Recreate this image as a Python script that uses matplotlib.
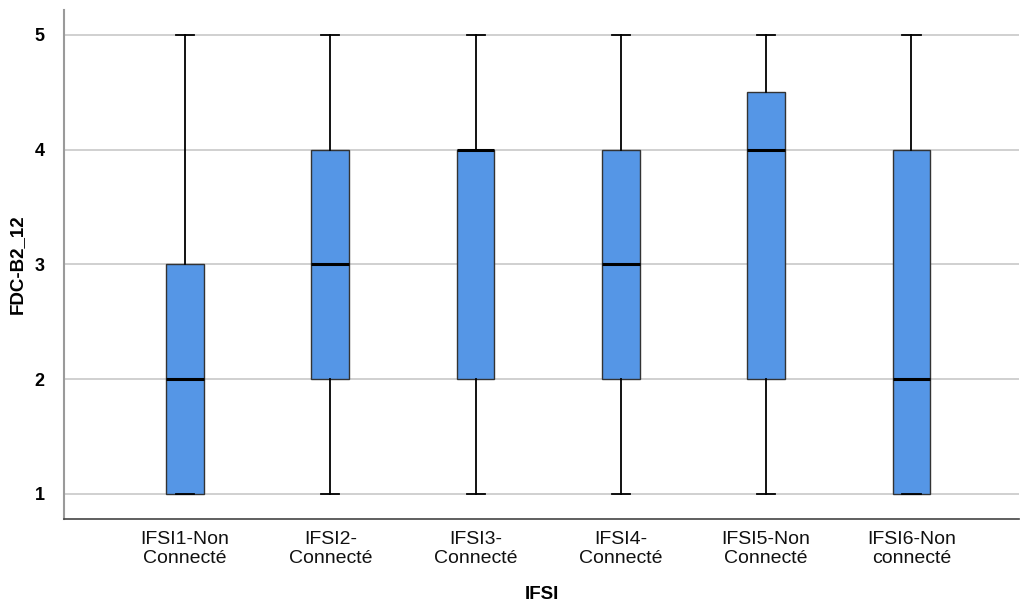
import numpy as np
import matplotlib.pyplot as plt

# Group labels and five-number summaries
groups = ['IFSI1-Non\nConnecté', 'IFSI2-\nConnecté', 'IFSI3-\nConnecté',
          'IFSI4-\nConnecté', 'IFSI5-Non\nConnecté', 'IFSI6-Non\nconnecté']
whisker_low = [1, 1, 1, 1, 1, 1]
q1 = [1, 2, 2, 2, 2, 1]
median = [2, 3, 4, 3, 4, 2]
q3 = [3, 4, 4, 4, 4.5, 4]
whisker_high = [5, 5, 5, 5, 5, 5]

plt.rcParams['font.family'] = ['Liberation Sans', 'DejaVu Sans']

stats = []
for i, name in enumerate(groups):
    stats.append({
        'label': name,
        'whislo': whisker_low[i],
        'q1': q1[i],
        'med': median[i],
        'q3': q3[i],
        'whishi': whisker_high[i],
        'fliers': [],
    })

fig = plt.figure(figsize=(10.21, 6.08), dpi=100)
ax = fig.add_axes([0.0627, 0.1464, 0.9353, 0.8372])

positions = np.arange(1, len(groups) + 1)
ax.bxp(stats, positions=positions, widths=0.26, patch_artist=True,
       showfliers=False,
       boxprops=dict(facecolor='#5596e6', edgecolor='#333333', linewidth=1.0),
       medianprops=dict(color='black', linewidth=2.2),
       whiskerprops=dict(color='black', linewidth=1.3),
       capprops=dict(color='black', linewidth=1.3),
       capwidths=0.125)

ax.set_xlim(0.167, 6.74)
ax.set_ylim(0.782, 5.218)
ax.set_yticks([1, 2, 3, 4, 5])
ax.yaxis.grid(True, color='#c8c8c8', linewidth=1.2)
ax.set_axisbelow(True)

for s in ['top', 'right']:
    ax.spines[s].set_visible(False)
ax.spines['left'].set_color('#9a9a9a')
ax.spines['left'].set_linewidth(1.5)
ax.spines['bottom'].set_color('#444444')
ax.spines['bottom'].set_linewidth(1.2)
ax.tick_params(length=0)
ax.tick_params(axis='y', pad=14, labelsize=13)
ax.tick_params(axis='x', pad=9, labelsize=14, labelcolor='#111111')
for t in ax.get_yticklabels():
    t.set_fontweight('bold')
for t in ax.get_xticklabels():
    t.set_linespacing(1.1)

ax.set_xlabel('IFSI', fontsize=13.5, fontweight='bold', labelpad=14)
ax.set_ylabel('FDC-B2_12', fontsize=13.5, fontweight='bold', labelpad=6)

fig.savefig('out.png', dpi=100)
